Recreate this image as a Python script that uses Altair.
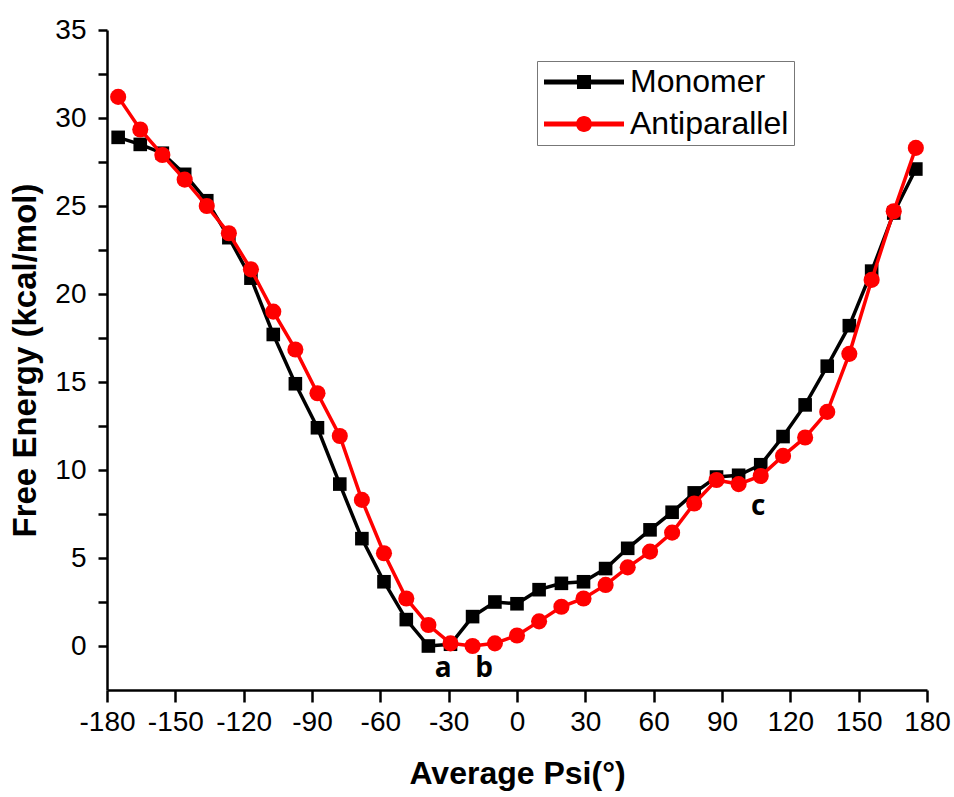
import altair as alt
import pandas as pd

# ---- data ----
psi = [-175.1, -165.4, -155.7, -145.9, -136.2, -126.5, -116.8, -107.0, -97.3,
       -87.6, -77.8, -68.1, -58.4, -48.6, -38.9, -29.2, -19.5, -9.7, 0.0,
       9.7, 19.5, 29.2, 38.9, 48.6, 58.4, 68.1, 77.8, 87.6, 97.3, 107.0,
       116.8, 126.5, 136.2, 145.9, 155.7, 165.4, 175.1]

monomer = [28.9, 28.5, 28.0, 26.8, 25.3, 23.2, 20.9, 17.7, 14.9, 12.4, 9.2,
           6.1, 3.65, 1.5, 0.0, 0.1, 1.67, 2.5, 2.4, 3.2, 3.56, 3.65, 4.4,
           5.55, 6.6, 7.6, 8.7, 9.6, 9.7, 10.3, 11.9, 13.7, 15.9, 18.2, 21.3,
           24.6, 27.1]

antiparallel = [31.2, 29.35, 27.9, 26.5, 25.0, 23.45, 21.4, 19.0, 16.85,
                14.36, 11.93, 8.3, 5.27, 2.7, 1.19, 0.15, 0.0, 0.15, 0.6, 1.4,
                2.23, 2.7, 3.47, 4.47, 5.36, 6.44, 8.1, 9.43, 9.2, 9.66, 10.8,
                11.85, 13.3, 16.6, 20.8, 24.7, 28.3]

series_names = ["Monomer", "Antiparallel"]
series_colors = ["#000000", "#ff0000"]

annot_text = ["a", "b", "c"]
annot_x = [-32.4, -14.4, 105.9]
annot_y = [-1.76, -1.76, 7.44]

x_ticks = [-180, -165, -150, -135, -120, -105, -90, -75, -60, -45, -30, -15,
           0, 15, 30, 45, 60, 75, 90, 105, 120, 135, 150, 165, 180]
y_ticks = [0, 2.5, 5, 7.5, 10, 12.5, 15, 17.5, 20, 22.5, 25, 27.5, 30, 32.5, 35]

# ---- tables ----
df = pd.DataFrame({
    "psi": psi + psi,
    "energy": monomer + antiparallel,
    "series": [series_names[0]] * len(psi) + [series_names[1]] * len(psi),
})
ann = pd.DataFrame({"t": annot_text, "x": annot_x, "y": annot_y})

FONT = "Liberation Sans"

x_axis = alt.Axis(
    values=x_ticks,
    labelExpr="datum.value % 30 === 0 ? toString(datum.value) : ''",
    labelFont=FONT, labelFontSize=28, labelColor="black", labelPadding=6,
    labelOverlap=False, labelFlush=False,
    tickSize={"condition": {"test": "datum.value % 30 === 0", "value": 12}, "value": 7},
    tickWidth=2.5, tickColor="black",
    domainColor="black", domainWidth=2.5, grid=False,
    title="Average Psi(°)", titleFont=FONT, titleFontSize=32,
    titleFontWeight="bold", titleColor="black",
    titleX=410, titleY=93, titleBaseline="alphabetic",
)

y_axis = alt.Axis(
    values=y_ticks,
    labelExpr="datum.value % 5 === 0 ? toString(datum.value) : ''",
    labelFont=FONT, labelFontSize=28, labelColor="black", labelPadding=12,
    labelOverlap=False, labelFlush=False,
    tickSize=9, tickWidth=2.5, tickColor="black",
    domainColor="black", domainWidth=2.5, grid=False,
    title="Free Energy (kcal/mol)", titleFont=FONT, titleFontSize=33,
    titleFontWeight="bold", titleColor="black",
    titleX=-72, titleY=330, titleBaseline="alphabetic", titleAngle=270,
)

x_enc = alt.X("psi:Q", scale=alt.Scale(domain=[-180, 180], nice=False, zero=False), axis=x_axis)
y_enc = alt.Y("energy:Q", scale=alt.Scale(domain=[-2.5, 35], nice=False, zero=False), axis=y_axis)

# legend glyphs: line segment with the series marker in its middle
sq_path = "M-4,-0.25H4V0.25H-4Z M-0.7,-0.7H0.7V0.7H-0.7Z"
ci_path = "M-4,-0.25H4V0.25H-4Z M-0.8,0A0.8,0.8 0 1,1 0.8,0A0.8,0.8 0 1,1 -0.8,0Z"

legend = alt.Legend(
    title=None, orient="none", legendX=430, legendY=31,
    labelFont=FONT, labelFontSize=32, labelColor="black", labelLimit=400,
    symbolSize=400, symbolOffset=26, labelOffset=30, rowPadding=10,
    padding=5, strokeColor="#777777", fillColor="white",
    symbolStrokeWidth=0, symbolOpacity=1,
)

base = alt.Chart(df)
mono = base.transform_filter("datum.series === 'Monomer'")
anti = base.transform_filter("datum.series === 'Antiparallel'")

line_m = mono.mark_line(color=series_colors[0], strokeWidth=3.5).encode(x=x_enc, y=y_enc)
pt_m = mono.mark_point(filled=True, opacity=1, size=185, shape="square",
                       color=series_colors[0]).encode(x=x_enc, y=y_enc)
line_a = anti.mark_line(color=series_colors[1], strokeWidth=3.5).encode(x=x_enc, y=y_enc)
pt_a = anti.mark_point(filled=True, opacity=1, size=260, shape="circle",
                       color=series_colors[1]).encode(x=x_enc, y=y_enc)

# invisible (clipped) layer that only carries the legend
legend_layer = base.mark_point(filled=True, size=400, clip=True).encode(
    x=x_enc,
    y=alt.value(-2000),
    color=alt.Color("series:N", scale=alt.Scale(domain=series_names, range=series_colors), legend=legend),
    shape=alt.Shape("series:N", scale=alt.Scale(domain=series_names, range=[sq_path, ci_path]), legend=legend),
)

labels = alt.Chart(ann).mark_text(
    font="Open Sans", fontWeight="bold", fontSize=28, color="black",
    align="center", baseline="alphabetic",
).encode(x=alt.X("x:Q"), y=alt.Y("y:Q"), text="t:N")

chart = alt.layer(line_m, pt_m, line_a, pt_a, labels, legend_layer).properties(
    width=820, height=660,
    autosize=alt.AutoSizeParams(type="none"),
    padding={"left": 107, "top": 30, "right": 27, "bottom": 107},
    background="white",
).configure_view(stroke=None)

chart.save("out.html", embed_options={"renderer": "svg", "actions": False})
